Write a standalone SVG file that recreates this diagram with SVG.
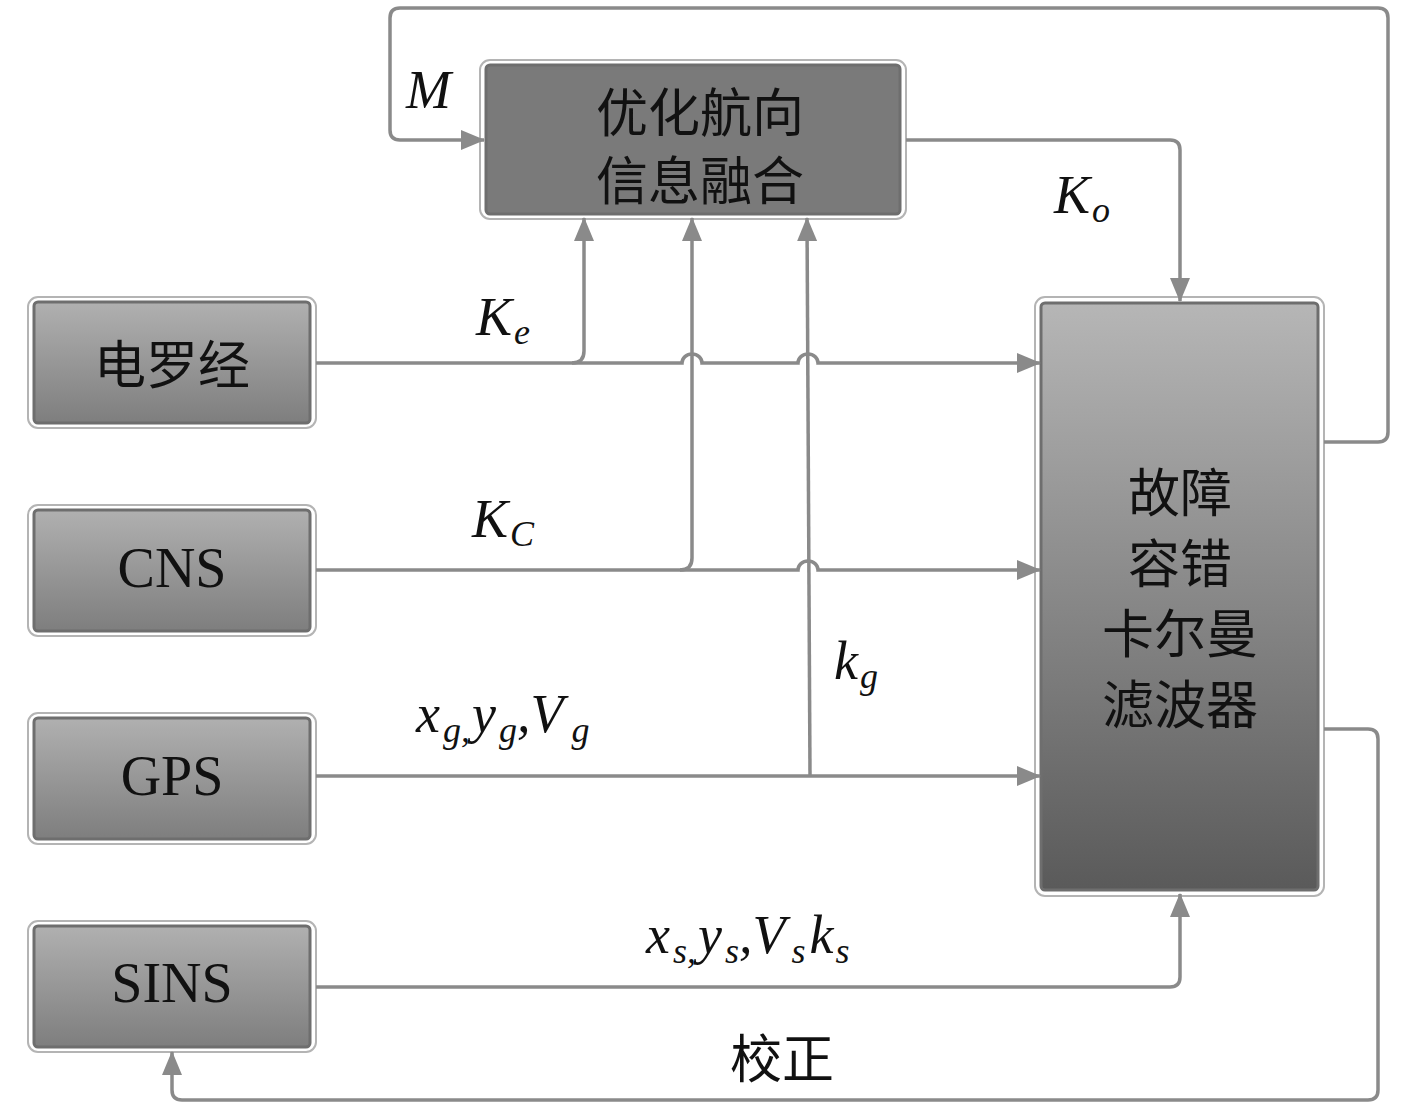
<svg xmlns="http://www.w3.org/2000/svg" width="1417" height="1110" viewBox="0 0 1417 1110">
<style>
.c{fill:none;stroke:#8a8a8a;stroke-width:3.5}
.ob{fill:#fff;stroke:#b4b4b4;stroke-width:2}
.ib{stroke:#6e6e6e;stroke-width:3}
.zh{font-family:"Noto Sans CJK SC","Noto Sans CJK JP",sans-serif;font-size:52px;fill:#111;text-anchor:middle}
.en{font-family:"Liberation Serif",serif;font-size:56px;fill:#111;text-anchor:middle}
.lb{font-family:"Liberation Serif",serif;font-style:italic;font-size:54px;fill:#111}
.sb{font-size:36px}
</style>
<defs>
<linearGradient id="g1" x1="0" y1="0" x2="0" y2="1">
<stop offset="0" stop-color="#b0b0b0"/><stop offset="1" stop-color="#7e7e7e"/>
</linearGradient>
<linearGradient id="g2" x1="0" y1="0" x2="0" y2="1">
<stop offset="0" stop-color="#b6b6b6"/><stop offset="1" stop-color="#5a5a5a"/>
</linearGradient>
<marker id="ar" viewBox="0 0 24 20" refX="23" refY="10" markerWidth="24" markerHeight="20" markerUnits="userSpaceOnUse" orient="auto">
<path d="M0,0 L24,10 L0,20 Z" fill="#8a8a8a"/>
</marker>
</defs>

<g id="fusion">
<rect class="ob" x="480" y="60" width="426" height="159" rx="10"/>
<rect class="ib" x="486" y="65" width="414" height="149" rx="4" fill="#7a7a7a"/>
<text class="zh" x="700" y="132">优化航向</text>
<text class="zh" x="700" y="200">信息融合</text>
</g>
<g id="gyro">
<rect class="ob" x="28" y="297" width="288" height="131" rx="10"/>
<rect class="ib" x="34" y="302" width="276" height="121" rx="4" fill="url(#g1)"/>
<text class="zh" x="172" y="384">电罗经</text>
</g>
<g id="cns">
<rect class="ob" x="28" y="505" width="288" height="131" rx="10"/>
<rect class="ib" x="34" y="510" width="276" height="121" rx="4" fill="url(#g1)"/>
<text class="en" x="172" y="587">CNS</text>
</g>
<g id="gps">
<rect class="ob" x="28" y="713" width="288" height="131" rx="10"/>
<rect class="ib" x="34" y="718" width="276" height="121" rx="4" fill="url(#g1)"/>
<text class="en" x="172" y="795">GPS</text>
</g>
<g id="sins">
<rect class="ob" x="28" y="921" width="288" height="131" rx="10"/>
<rect class="ib" x="34" y="926" width="276" height="121" rx="4" fill="url(#g1)"/>
<text class="en" x="172" y="1002">SINS</text>
</g>
<g id="kalman">
<rect class="ob" x="1035" y="297" width="289" height="599" rx="10"/>
<rect class="ib" x="1041" y="303" width="277" height="587" rx="4" fill="url(#g2)"/>
<text class="zh" x="1180" y="512">故障</text>
<text class="zh" x="1180" y="583">容错</text>
<text class="zh" x="1180" y="653">卡尔曼</text>
<text class="zh" x="1180" y="724">滤波器</text>
</g>

<g id="connectors">
<path class="c" d="M1324,442 H1378 Q1388,442 1388,432 V18 Q1388,8 1378,8 H400 Q390,8 390,18 V130 Q390,140 400,140 H484" marker-end="url(#ar)"/>
<path class="c" d="M906,140 H1170 Q1180,140 1180,150 V301" marker-end="url(#ar)"/>
<path class="c" d="M316,363 H682 A10,9 0 0 1 702,363 H798 A10,9 0 0 1 818,363 H1040" marker-end="url(#ar)"/>
<path class="c" d="M572,363 Q584,363 584,351 V218" marker-end="url(#ar)"/>
<path class="c" d="M316,570 H798 A10,9 0 0 1 818,570 H1040" marker-end="url(#ar)"/>
<path class="c" d="M680,570 Q692,570 692,558 V218" marker-end="url(#ar)"/>
<path class="c" d="M316,776 H1040" marker-end="url(#ar)"/>
<path class="c" d="M810,776 L807,218" marker-end="url(#ar)"/>
<path class="c" d="M316,987 H1170 Q1180,987 1180,977 V894" marker-end="url(#ar)"/>
<path class="c" d="M1324,729 H1368 Q1378,729 1378,739 V1090 Q1378,1100 1368,1100 H182 Q172,1100 172,1090 V1052" marker-end="url(#ar)"/>
</g>

<g id="labels">
<text class="lb" x="406" y="108">M</text>
<text class="lb" x="1054" y="213">K<tspan class="sb" dx="2" dy="9">o</tspan></text>
<text class="lb" x="476" y="335">K<tspan class="sb" dx="2" dy="9">e</tspan></text>
<text class="lb" x="472" y="537">K<tspan class="sb" dx="2" dy="9">C</tspan></text>
<text class="lb" x="834" y="679">k<tspan class="sb" dx="2" dy="9">g</tspan></text>
<text class="lb" x="416" y="732">x<tspan class="sb" dx="3" dy="10">g,</tspan><tspan dx="2" dy="-10">y</tspan><tspan class="sb" dx="3" dy="10">g</tspan><tspan dy="-10">,V</tspan><tspan class="sb" dx="8" dy="10">g</tspan></text>
<text class="lb" x="646" y="953">x<tspan class="sb" dx="3" dy="10">s,</tspan><tspan dx="2" dy="-10">y</tspan><tspan class="sb" dx="3" dy="10">s</tspan><tspan dy="-10">,V</tspan><tspan class="sb" dx="6" dy="10">s</tspan><tspan dx="4" dy="-10">k</tspan><tspan class="sb" dx="2" dy="10">s</tspan></text>
<text class="zh" x="782" y="1078">校正</text>
</g>
</svg>
